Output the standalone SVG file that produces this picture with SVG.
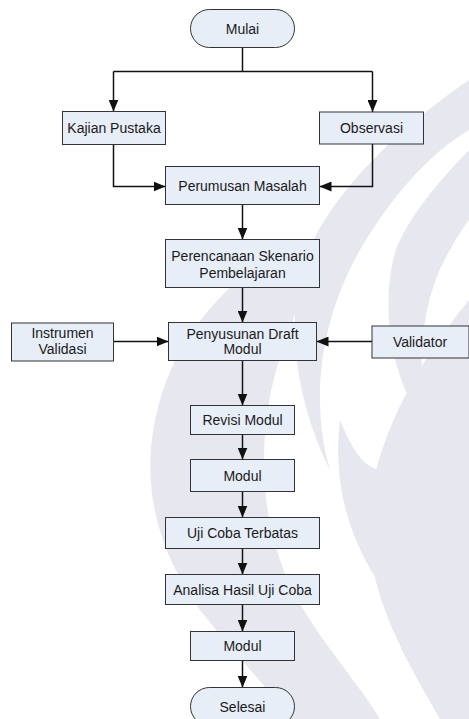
<svg xmlns="http://www.w3.org/2000/svg" width="469" height="719" viewBox="0 0 469 719">
<style>
.box{fill:#e8eef8;stroke:#333;stroke-width:1}
.t{font-family:"Liberation Sans",Arial,sans-serif;font-size:14px;fill:#1a1a1a;text-anchor:middle}
.c{fill:none;stroke:#111;stroke-width:1.5}
.wm{fill:#e7e8ef}
</style>
<defs>
<marker id="ah" viewBox="0 0 12 10" refX="12" refY="5" markerWidth="12" markerHeight="10" markerUnits="userSpaceOnUse" orient="auto">
<path d="M0 0 L12 5 L0 10 Z" fill="#111"/>
</marker>
</defs>
<rect width="469" height="719" fill="#fff"/>
<g id="watermark">
<path class="wm" d="M469 80 C410 120 330 190 305 260 C285 320 295 400 330 470 C310 400 320 320 360 250 C395 190 435 150 469 130 Z"/>
<path class="wm" d="M469 150 C430 190 400 230 393 260 C380 320 395 390 430 430 C415 370 420 300 450 250 C458 235 465 225 469 220 Z"/>
<path class="wm" d="M290 240 C230 280 180 330 160 400 C140 470 150 540 200 610 C240 660 270 690 290 719 L380 719 C350 670 300 620 280 560 C255 490 260 400 290 330 C300 300 310 270 290 240 Z"/>
<path class="wm" d="M469 300 C420 360 380 430 370 500 C360 580 400 650 440 719 L469 719 Z"/>
<path class="wm" d="M340 420 C330 500 360 580 430 640 C400 580 390 520 400 460 C380 480 360 470 340 420 Z"/>
</g>
<g id="connectors">
<path class="c" d="M242.5 48 V71.5"/>
<path class="c" d="M113.5 71.5 H372.5"/>
<path class="c" d="M113.5 71.5 V111.5" marker-end="url(#ah)"/>
<path class="c" d="M372.5 71.5 V112" marker-end="url(#ah)"/>
<path class="c" d="M113.5 144.5 V186.5 H165.5" marker-end="url(#ah)"/>
<path class="c" d="M372.5 144 V186.5 H319.5" marker-end="url(#ah)"/>
<path class="c" d="M242.5 204.5 V239.5" marker-end="url(#ah)"/>
<path class="c" d="M242.5 287.5 V322.5" marker-end="url(#ah)"/>
<path class="c" d="M113.5 341.5 H168.5" marker-end="url(#ah)"/>
<path class="c" d="M372 341.5 H316.5" marker-end="url(#ah)"/>
<path class="c" d="M242.5 360.5 V405.5" marker-end="url(#ah)"/>
<path class="c" d="M242.5 434.5 V459.5" marker-end="url(#ah)"/>
<path class="c" d="M242.5 491.5 V517.5" marker-end="url(#ah)"/>
<path class="c" d="M242.5 548.5 V574.5" marker-end="url(#ah)"/>
<path class="c" d="M242.5 604.5 V631.5" marker-end="url(#ah)"/>
<path class="c" d="M242.5 660.5 V687.5" marker-end="url(#ah)"/>
</g>
<g id="mulai"><rect class="box" x="190.5" y="9.5" width="104" height="38" rx="19"/><text class="t" x="242.5" y="33.5">Mulai</text></g>
<g id="kajian"><rect class="box" x="62.5" y="111.5" width="103" height="33"/><text class="t" x="114" y="133">Kajian Pustaka</text></g>
<g id="observasi"><rect class="box" x="319.5" y="112" width="104" height="32"/><text class="t" x="371.5" y="133">Observasi</text></g>
<g id="perumusan"><rect class="box" x="165.5" y="166.5" width="154" height="38"/><text class="t" x="242.5" y="190.5">Perumusan Masalah</text></g>
<g id="perencanaan"><rect class="box" x="165.5" y="239.5" width="154" height="48"/><text class="t" x="242.5" y="261">Perencanaan Skenario</text><text class="t" x="242.5" y="278">Pembelajaran</text></g>
<g id="instrumen"><rect class="box" x="11.5" y="323" width="102" height="38"/><text class="t" x="62.5" y="338">Instrumen</text><text class="t" x="62.5" y="354">Validasi</text></g>
<g id="penyusunan"><rect class="box" x="168.5" y="322.5" width="148" height="38"/><text class="t" x="242.5" y="338.5">Penyusunan Draft</text><text class="t" x="242.5" y="354">Modul</text></g>
<g id="validator"><rect class="box" x="372" y="326" width="97" height="32"/><text class="t" x="420" y="347">Validator</text></g>
<g id="revisi"><rect class="box" x="190.5" y="405.5" width="104" height="29"/><text class="t" x="242.5" y="425">Revisi Modul</text></g>
<g id="modul1"><rect class="box" x="190.5" y="459.5" width="104" height="32"/><text class="t" x="242.5" y="480.5">Modul</text></g>
<g id="ujicoba"><rect class="box" x="165.5" y="517.5" width="154" height="31"/><text class="t" x="242.5" y="538">Uji Coba Terbatas</text></g>
<g id="analisa"><rect class="box" x="165.5" y="574.5" width="154" height="30"/><text class="t" x="242.5" y="594.5">Analisa Hasil Uji Coba</text></g>
<g id="modul2"><rect class="box" x="190.5" y="631.5" width="104" height="29"/><text class="t" x="242.5" y="651">Modul</text></g>
<g id="selesai"><rect class="box" x="190.5" y="687.5" width="104" height="38" rx="19"/><text class="t" x="242.5" y="711.5">Selesai</text></g>
</svg>
